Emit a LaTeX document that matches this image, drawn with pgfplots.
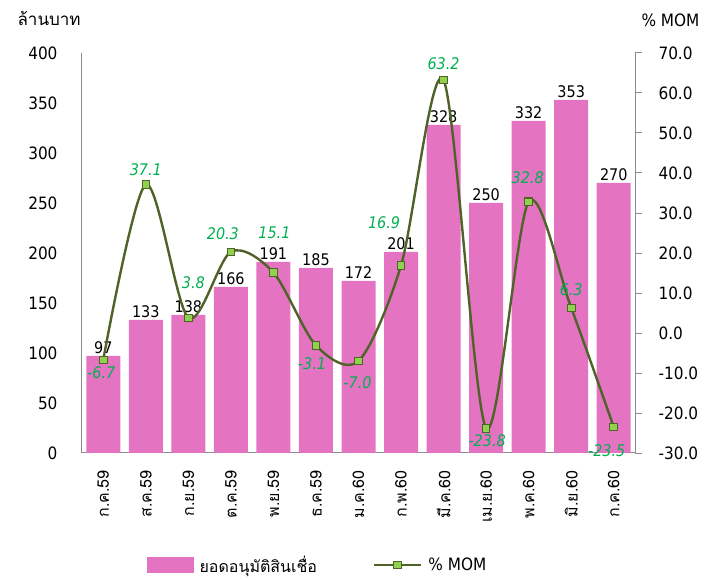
\documentclass[border=0pt]{standalone}
\usepackage{fontspec}
\setmainfont{DejaVu Sans Condensed}[ItalicFont={DejaVu Sans Condensed Oblique}]
\newfontfamily\thaifont[Script=Thai]{Loma}
\usepackage{pgfplots}
\usepackage{pgfplotstable}
\pgfplotsset{compat=1.18}

\definecolor{barpink}{HTML}{E474C1}
\definecolor{momline}{HTML}{4F6228}
\definecolor{mommark}{HTML}{92D050}
\definecolor{momlabel}{HTML}{00B050}
\definecolor{axisgray}{HTML}{8C8C8C}

% month index, approved loans (million baht), % MoM
\pgfplotstableread{
x loan mom
0  97 -6.7
1 133 37.1
2 138  3.8
3 166 20.3
4 191 15.1
5 185 -3.1
6 172 -7.0
7 201 16.9
8 328 63.2
9 250 -23.8
10 332 32.8
11 353 6.3
12 270 -23.5
}\loandata

% where each % label sits relative to its point
\pgfplotsset{
  momlab/.style n args={3}{coordinate style/.condition={\coordindex==#1}{xshift=#2pt, yshift=#3pt}},
}

\begin{document}
\begin{tikzpicture}
\path[use as bounding box] (-82pt,-127pt) rectangle (637pt,453pt);
\pgfplotsset{
  /pgf/number format/assume math mode=true,
  every axis/.append style={
    at={(0pt,0pt)}, anchor=south west,
    scale only axis, width=553pt, height=400pt,
    xmin=-0.5, xmax=12.5,
    axis line style={axisgray, line width=1pt},
  },
}
\begin{axis}[
  ymin=0, ymax=400,
  ytick={0,50,...,400},
  xtick={0,...,12},
  xticklabels={ก.ค.59, ส.ค.59, ก.ย.59, ต.ค.59, พ.ย.59, ธ.ค.59, ม.ค.60, ก.พ.60, มี.ค.60, เม.ย.60, พ.ค.60, มิ.ย.60, ก.ค.60},
  axis x line*=bottom, axis y line*=left,
  major tick length=0pt,
  x tick label style={font=\thaifont\fontsize{16}{18}\selectfont, yshift=-14pt, rotate=90, anchor=east},
  y tick label style={font=\fontsize{17}{20}\selectfont, xshift=-21pt},
]
\addplot[ybar, bar width=34pt, fill=barpink, draw=none,
  nodes near coords={\pgfmathprintnumber[fixed,precision=0]{\pgfplotspointmeta}},
  nodes near coords style={font=\fontsize{16}{19}\selectfont, black, inner sep=2.5pt},
] table[x=x, y=loan] {\loandata};
\end{axis}

\begin{axis}[
  ymin=-30, ymax=70,
  ytick={-30,-20,...,70},
  axis x line=none, axis y line*=right,
  tick align=outside, major tick length=7pt,
  ytick style={axisgray, line width=1pt},
  y tick label style={font=\fontsize{17}{20}\selectfont, xshift=13pt,
    /pgf/number format/.cd, fixed, fixed zerofill, precision=1},
  legend style={at={(0.1175,-0.28)}, anchor=west, draw=none, fill=none,
    legend columns=2, inner sep=0pt, cells={anchor=west},
    font=\fontsize{17}{20}\selectfont,
    /tikz/every odd column/.append style={column sep=4pt},
    /tikz/every even column/.append style={column sep=54pt}},
]
\addlegendimage{legend image code/.code={\fill[barpink] (0pt,-7.5pt) rectangle (46pt,7.5pt);}}
\addlegendentry{\thaifont\fontsize{16}{20}\selectfont ยอดอนุมัติสินเชื่อ}
\addlegendimage{legend image code/.code={
  \draw[momline, line width=2.4pt] (0pt,0pt) -- (47pt,0pt);
  \draw[fill=mommark, draw=momline, line width=1pt] (19.7pt,-3.8pt) rectangle (27.3pt,3.8pt);}}
\addlegendentry{\% MOM}
\addplot[forget plot, momline, line width=2.4pt, smooth, tension=0.5,
  mark=square*, mark size=3.8pt,
  mark options={fill=mommark, draw=momline, line width=1pt},
  nodes near coords={\pgfmathprintnumber[fixed,fixed zerofill,precision=1]{\pgfplotspointmeta}},
  nodes near coords style={font=\fontsize{16}{19}\selectfont\itshape, momlabel, anchor=center},
  momlab={0}{-2}{-13}, momlab={1}{0}{15}, momlab={2}{5}{35},
  momlab={3}{-8}{18}, momlab={4}{1}{40}, momlab={5}{-4}{-18},
  momlab={6}{-1}{-22}, momlab={7}{-17}{43}, momlab={8}{0}{17},
  momlab={9}{1}{-12}, momlab={10}{-1}{24}, momlab={11}{0}{18},
  momlab={12}{-7}{-24},
] table[x=x, y=mom] {\loandata};
\end{axis}

\node[anchor=west, font=\thaifont\fontsize{17}{20}\selectfont] at (-68pt,435pt) {ล้านบาท};
\node[anchor=west, font=\fontsize{17}{20}\selectfont] at (556pt,433pt) {\% MOM};
\end{tikzpicture}
\end{document}
